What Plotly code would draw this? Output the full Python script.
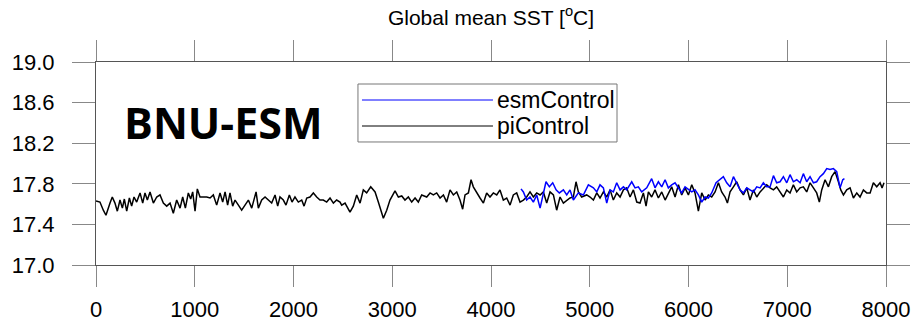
import plotly.graph_objects as go

# piControl (black) — years and global mean SST values
pi_years = [0, 40, 74, 101, 142, 165, 192, 216, 243, 267, 287, 311, 338, 361, 385, 412, 446, 473, 496, 520,
            547, 581, 615, 648, 682, 716, 750, 783, 817, 851, 878, 905, 935, 959, 979, 1003, 1026, 1053, 1087, 1121,
            1155, 1188, 1222, 1256, 1283, 1307, 1333, 1357, 1384, 1408, 1442, 1475, 1509, 1543, 1577, 1621, 1644, 1678, 1712, 1745,
            1779, 1813, 1840, 1863, 1897, 1924, 1958, 1985, 2015, 2049, 2083, 2107, 2134, 2167, 2201, 2235, 2268,
            2302, 2336, 2370, 2404, 2437, 2471, 2488, 2522, 2572, 2606, 2640, 2674, 2707, 2741, 2782, 2826, 2859, 2910, 2944,
            2977, 3028, 3062, 3096, 3129, 3163, 3197, 3231, 3264, 3298, 3349, 3383, 3416, 3450, 3484, 3518, 3551, 3585, 3619, 3653,
            3686, 3713, 3737, 3771, 3798, 3821, 3855, 3889, 3923, 3956, 3990, 4024, 4058, 4091, 4125, 4159, 4193, 4226, 4260, 4294,
            4328, 4361, 4395, 4429, 4463, 4497, 4530, 4564, 4598, 4632, 4665, 4699, 4733, 4767, 4800, 4834, 4861, 4885, 4918, 4969,
            5003, 5037, 5071, 5104, 5138, 5172, 5206, 5239, 5273, 5307, 5341, 5374, 5408, 5442, 5476, 5509, 5543, 5570, 5594, 5627,
            5661, 5695, 5729, 5763, 5796, 5830, 5864, 5898, 5931, 5965, 5999, 6033, 6066, 6100, 6134, 6168, 6201, 6235, 6269, 6303,
            6336, 6370, 6394, 6421, 6455, 6488, 6522, 6556, 6590, 6623, 6657, 6691, 6725, 6758, 6792, 6826, 6860, 6893, 6927, 6961,
            6995, 7028, 7062, 7096, 7130, 7163, 7197, 7231, 7265, 7298, 7325, 7349, 7383, 7417, 7450, 7484, 7518, 7542, 7569, 7602,
            7636, 7670, 7704, 7737, 7771, 7805, 7839, 7872, 7906, 7940, 7960, 7980]
pi_sst = [17.63, 17.62, 17.54, 17.49, 17.61, 17.67, 17.61, 17.53, 17.64, 17.56, 17.65, 17.53, 17.66, 17.58, 17.67, 17.62, 17.71, 17.61, 17.71, 17.64,
          17.72, 17.61, 17.67, 17.69, 17.61, 17.58, 17.61, 17.51, 17.64, 17.56, 17.67, 17.56, 17.71, 17.65, 17.72, 17.53, 17.75, 17.67, 17.67, 17.67,
          17.66, 17.69, 17.59, 17.71, 17.62, 17.72, 17.59, 17.71, 17.58, 17.64, 17.59, 17.54, 17.59, 17.64, 17.56, 17.72, 17.56, 17.64, 17.67, 17.64,
          17.61, 17.69, 17.58, 17.67, 17.64, 17.59, 17.69, 17.62, 17.67, 17.62, 17.64, 17.58, 17.66, 17.67, 17.71, 17.67, 17.64,
          17.64, 17.62, 17.66, 17.61, 17.64, 17.62, 17.59, 17.61, 17.52, 17.58, 17.69, 17.61, 17.74, 17.71, 17.77, 17.72, 17.62, 17.46, 17.54,
          17.64, 17.73, 17.67, 17.68, 17.64, 17.67, 17.62, 17.66, 17.62, 17.69, 17.67, 17.71, 17.69, 17.71, 17.66, 17.69, 17.62, 17.74, 17.69, 17.72,
          17.64, 17.55, 17.69, 17.71, 17.84, 17.77, 17.71, 17.66, 17.61, 17.71, 17.67, 17.71, 17.69, 17.74, 17.64, 17.66, 17.59, 17.69, 17.71, 17.62,
          17.64, 17.67, 17.72, 17.67, 17.71, 17.69, 17.72, 17.61, 17.72, 17.69, 17.54, 17.67, 17.61, 17.64, 17.66, 17.67, 17.82, 17.72, 17.67, 17.69,
          17.67, 17.64, 17.71, 17.66, 17.72, 17.67, 17.74, 17.64, 17.71, 17.67, 17.74, 17.76, 17.67, 17.74, 17.62, 17.61, 17.71, 17.58, 17.72, 17.67,
          17.74, 17.66, 17.72, 17.64, 17.71, 17.77, 17.67, 17.79, 17.69, 17.76, 17.69, 17.79, 17.71, 17.53, 17.71, 17.64, 17.69, 17.67, 17.72, 17.81,
          17.72, 17.67, 17.61, 17.72, 17.77, 17.82, 17.74, 17.69, 17.76, 17.64, 17.74, 17.67, 17.72, 17.76, 17.79, 17.76, 17.74, 17.77, 17.72, 17.67,
          17.74, 17.71, 17.79, 17.72, 17.76, 17.77, 17.72, 17.81, 17.76, 17.71, 17.62, 17.74, 17.84, 17.77, 17.87, 17.92, 17.82, 17.74, 17.69, 17.74,
          17.76, 17.66, 17.71, 17.67, 17.74, 17.71, 17.71, 17.81, 17.77, 17.81, 17.76, 17.81]

# esmControl (blue)
esm_years = [4304, 4328, 4361, 4395, 4429, 4463, 4497, 4530, 4557, 4591, 4625, 4659, 4692, 4733, 4767, 4800, 4834, 4885, 4935, 4986,
             5037, 5071, 5104, 5138, 5172, 5206, 5239, 5273, 5307, 5341, 5374, 5425, 5459, 5492, 5526, 5577, 5627, 5661, 5695, 5729,
             5763, 5796, 5830, 5864, 5898, 5931, 5965, 5999, 6033, 6066, 6100, 6134, 6168, 6201, 6235, 6279, 6319, 6353, 6387, 6421,
             6455, 6488, 6522, 6556, 6590, 6623, 6657, 6691, 6725, 6758, 6792, 6826, 6860, 6893, 6927, 6961, 6995, 7028, 7062, 7096,
             7130, 7163, 7197, 7231, 7265, 7298, 7332, 7366, 7400, 7433, 7467, 7501, 7535, 7562, 7579]
esm_sst = [17.75, 17.72, 17.64, 17.67, 17.62, 17.69, 17.56, 17.71, 17.82, 17.77, 17.81, 17.74, 17.71, 17.74, 17.69, 17.74, 17.64, 17.71, 17.69, 17.79,
           17.76, 17.72, 17.79, 17.76, 17.61, 17.74, 17.72, 17.81, 17.74, 17.77, 17.74, 17.82, 17.76, 17.77, 17.72, 17.76, 17.85, 17.76, 17.82, 17.77,
           17.84, 17.76, 17.79, 17.81, 17.76, 17.71, 17.77, 17.74, 17.72, 17.74, 17.69, 17.62, 17.67, 17.66, 17.71, 17.81, 17.84, 17.87, 17.81, 17.77,
           17.87, 17.81, 17.74, 17.71, 17.76, 17.74, 17.72, 17.77, 17.76, 17.81, 17.77, 17.77, 17.88, 17.81, 17.82, 17.87, 17.81, 17.89, 17.82, 17.84,
           17.81, 17.90, 17.82, 17.87, 17.81, 17.82, 17.87, 17.90, 17.95, 17.94, 17.95, 17.92, 17.76, 17.84, 17.85]

x_ticks = [0, 1000, 2000, 3000, 4000, 5000, 6000, 7000, 8000]
y_ticks = [17.0, 17.4, 17.8, 18.2, 18.6, 19.0]
y_tick_labels = ["17.0", "17.4", "17.8", "18.2", "18.6", "19.0"]
series_names = ["esmControl", "piControl"]
series_colors = ["#0000ff", "#000000"]

FONT = "Liberation Sans, Arial, sans-serif"

fig = go.Figure()
fig.add_trace(go.Scatter(x=pi_years, y=pi_sst, mode="lines", name=series_names[1],
                         line=dict(color=series_colors[1], width=1.5), showlegend=False))
fig.add_trace(go.Scatter(x=esm_years, y=esm_sst, mode="lines", name=series_names[0],
                         line=dict(color=series_colors[0], width=1.5), showlegend=False))

# Legend drawn as box + lines + labels (paper coordinates)
lx0, lx1, ly0, ly1 = 0.3316, 0.6595, 0.606, 0.8916
fig.add_shape(type="rect", xref="paper", yref="paper", x0=lx0, x1=lx1, y0=ly0, y1=ly1,
              line=dict(color="#777777", width=1), fillcolor="white", layer="below")
for name, col, yy in zip(series_names, series_colors, [0.8128, 0.6847]):
    fig.add_shape(type="line", xref="paper", yref="paper", x0=0.3367, x1=0.5025, y0=yy, y1=yy,
                  line=dict(color=col, width=1))
    fig.add_annotation(xref="paper", yref="paper", x=0.5051, y=yy, text=name, showarrow=False,
                       xanchor="left", yanchor="middle", font=dict(family=FONT, size=23, color="black"))

fig.add_annotation(xref="paper", yref="paper", x=0.1614, y=0.704, text="<b>BNU-ESM</b>", showarrow=False,
                   xanchor="center", yanchor="middle",
                   font=dict(family="Open Sans, sans-serif", size=43, color="black"))

fig.update_layout(
    width=914, height=323,
    margin=dict(l=96, r=28, t=62, b=58, autoexpand=False),
    paper_bgcolor="white", plot_bgcolor="white",
    title=dict(text="Global mean SST [<sup>o</sup>C]", x=0.5372, xanchor="center", y=0.945, yanchor="middle",
               font=dict(family=FONT, size=21, color="black")),
    font=dict(family=FONT, size=22, color="black"),
    xaxis=dict(range=[0, 8000], tickvals=x_ticks, ticktext=[str(v) for v in x_ticks], automargin=False,
               showgrid=False, zeroline=False, showline=True, linecolor="#555555", linewidth=1,
               mirror="ticks", ticks="outside", ticklen=21, tickcolor="#888888", tickwidth=1,
               ticklabelstandoff=4,
               tickfont=dict(family=FONT, size=22, color="black")),
    yaxis=dict(range=[17.0, 19.0], tickvals=y_ticks, ticktext=y_tick_labels, automargin=False,
               showgrid=False, zeroline=False, showline=True, linecolor="#555555", linewidth=1,
               mirror="ticks", ticks="outside", ticklen=23, tickcolor="#888888", tickwidth=1,
               ticklabelstandoff=13,
               tickfont=dict(family=FONT, size=22, color="black")),
)

fig.write_html("out.html", config={"displayModeBar": False},
               post_script="document.body.style.margin='0';document.body.style.overflow='hidden';")
